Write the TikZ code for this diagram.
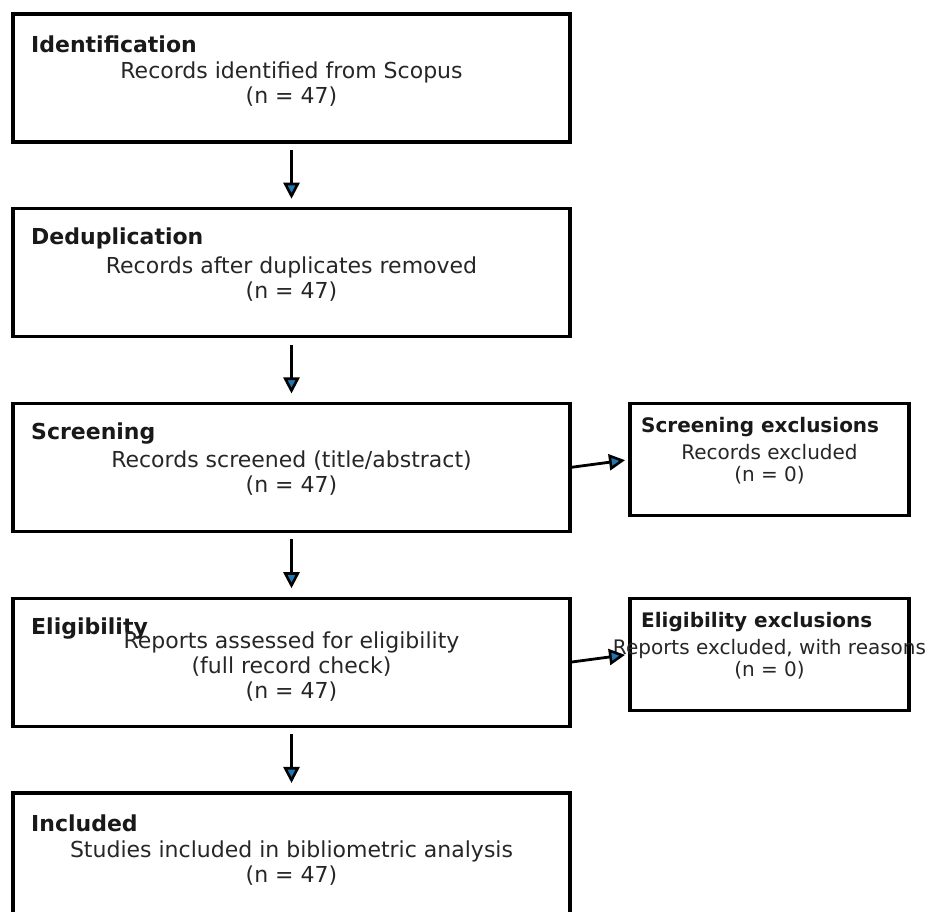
\documentclass[tikz,border=0pt]{standalone}
\usepackage{fontspec}
\setmainfont{DejaVu Sans}
\usepackage{xcolor}
\usetikzlibrary{arrows.meta, positioning}
\definecolor{tipblue}{HTML}{1F77B4}

\begin{document}
\begin{tikzpicture}[x=1pt, y=1pt,
      stage/.style={
        rectangle, draw=black, line width=3.4pt, inner sep=0pt, outer sep=0pt,
        minimum width=557pt, minimum height=128pt},
      exbox/.style={
        rectangle, draw=black, line width=3.4pt, inner sep=0pt, outer sep=0pt,
        minimum width=279pt, minimum height=112pt},
      head/.style={anchor=west, inner sep=0pt, text=black!90,
        font=\fontsize{22}{25}\selectfont\bfseries},
      body/.style={align=center, inner sep=0pt, text=black!85,
        font=\fontsize{22}{25}\selectfont},
      exhead/.style={anchor=west, inner sep=0pt, text=black!90,
        font=\fontsize{20}{22}\selectfont\bfseries},
      exbody/.style={align=center, inner sep=0pt, text=black!85,
        font=\fontsize{20}{22}\selectfont},
      arr/.style={-{Triangle[length=16pt, width=16pt, fill=tipblue, line width=2.6pt]},
        line width=2.8pt, black},
      node distance=66.75pt
    ]
    \useasboundingbox (0,0) rectangle (931,912);
    \clip (0,0) rectangle (931,912);

    % --- Stages (vertical spine) ---
    \node[stage] (ident) at (291.5,834) {};
    \node[stage, below=of ident]  (dedup)  {};
    \node[stage, below=of dedup]  (screen) {};
    \node[stage, below=of screen] (elig)   {};
    \node[stage, below=of elig]   (incl)   {};

    % --- Exclusion boxes ---
    \node[exbox, anchor=north west] (screx) at ([xshift=60pt]screen.north east) {};
    \node[exbox, anchor=north west] (eligex) at ([xshift=60pt]elig.north east) {};

    % --- Stage texts ---
    \node[head] (identT) at ([xshift=18pt, yshift=-30pt]ident.north west) {Identification};
    \node[body] (identB) at ([yshift=-6pt]ident.center) {Records identified from Scopus\\(n = 47)};
    \node[head] (dedupT) at ([xshift=18pt, yshift=-30pt]dedup.north west) {Deduplication};
    \node[body] (dedupB) at ([yshift=-6pt]dedup.center) {Records after duplicates removed\\(n = 47)};
    \node[head] (screenT) at ([xshift=18pt, yshift=-30pt]screen.north west) {Screening};
    \node[body] (screenB) at ([yshift=-6pt]screen.center) {Records screened (title/abstract)\\(n = 47)};
    \node[head] (eligT) at ([xshift=18pt, yshift=-30pt]elig.north west) {Eligibility};
    \node[body] (eligB) at ([yshift=-4pt]elig.center) {Reports assessed for eligibility\\(full record check)\\(n = 47)};
    \node[head] (inclT) at ([xshift=18pt, yshift=-30pt]incl.north west) {Included};
    \node[body] (inclB) at ([yshift=-6pt]incl.center) {Studies included in bibliometric analysis\\(n = 47)};

    % --- Exclusion texts ---
    \node[exhead] (screxT) at ([xshift=11pt, yshift=-24pt]screx.north west) {Screening exclusions};
    \node[exbody] (screxB) at ([yshift=-5pt]screx.center) {Records excluded\\(n = 0)};
    \node[exhead] (eligexT) at ([xshift=11pt, yshift=-24pt]eligex.north west) {Eligibility exclusions};
    \node[exbody] (eligexB) at ([yshift=-5pt]eligex.center) {Reports excluded, with reasons\\(n = 0)};

    % --- Stage arrows ---
    \draw[arr, shorten <=8pt, shorten >=10pt] (ident)  -- (dedup);
    \draw[arr, shorten <=8pt, shorten >=10pt] (dedup)  -- (screen);
    \draw[arr, shorten <=8pt, shorten >=10pt] (screen) -- (elig);
    \draw[arr, shorten <=8pt, shorten >=10pt] (elig)   -- (incl);

    % --- Exclusion arrows ---
    \draw[arr, shorten <=1.5pt, shorten >=5pt] (screen.east) -- (screx.west);
    \draw[arr, shorten <=1.5pt, shorten >=5pt] (elig.east)   -- (eligex.west);
  \end{tikzpicture}
\end{document}
